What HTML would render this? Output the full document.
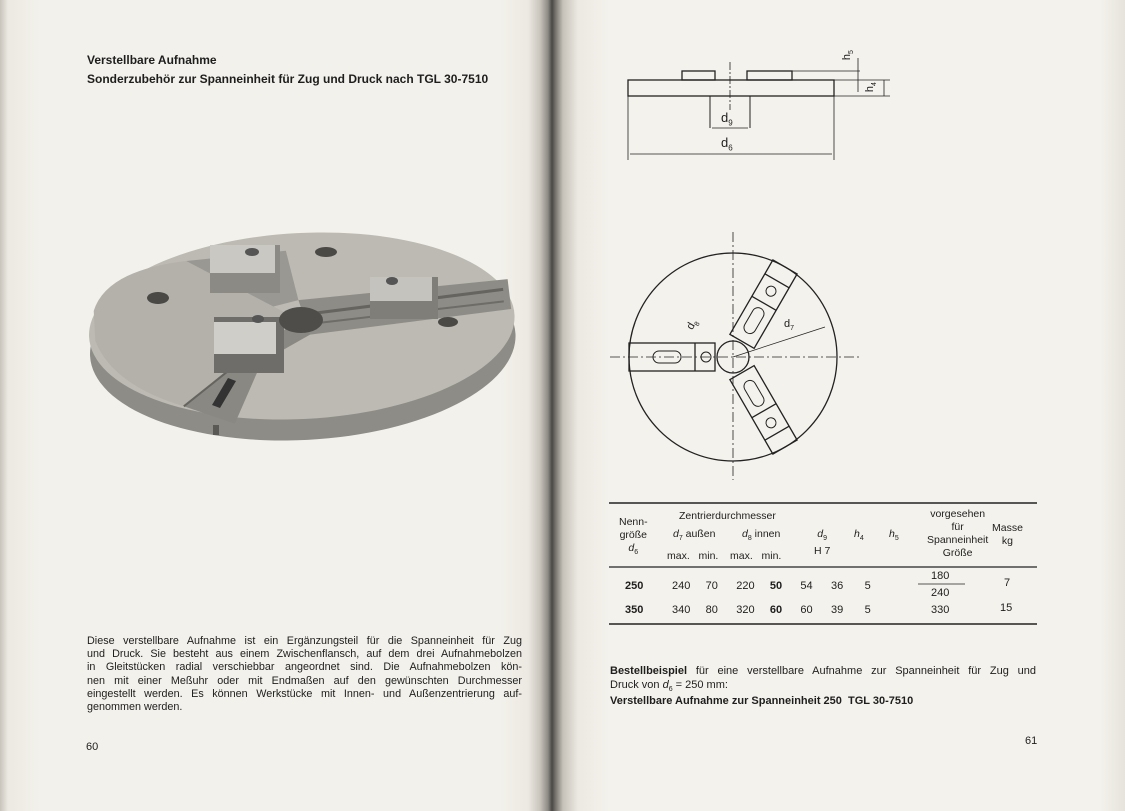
<!DOCTYPE html>
<html><head><meta charset="utf-8"><style>
html,body{margin:0;padding:0}
body{width:1125px;height:811px;position:relative;overflow:hidden;background:#f2f0ea;font-family:"Liberation Sans",sans-serif;color:#1e1e1e}
.t{position:absolute;white-space:nowrap}
.b{font-weight:bold}
.gut{position:absolute;top:0;height:811px}
.j{display:block;text-align:justify;text-align-last:justify}
</style></head><body>
<div class="gut" style="left:0;width:1125px;background:linear-gradient(90deg,#c8c4bc 0,#ece9e2 8px,#f3f1eb 40px,#f3f1eb 500px,#ece9e2 528px,#c9c5bd 540px,#8d8a84 548px,#4a4844 552px,#7b7872 556px,#c6c2ba 563px,#ece9e2 578px,#f4f2ec 610px,#f4f2ec 1100px,#e6e3dc 1125px)"></div>

<div class="t b" style="left:87px;top:53px;font-size:12px">Verstellbare Aufnahme</div>
<div class="t b" style="left:87px;top:72px;font-size:12px">Sonderzubehör zur Spanneinheit für Zug und Druck nach TGL 30-7510</div>

<svg style="position:absolute;left:0;top:0" width="560" height="811">
  <g transform="rotate(-3 302 330)">
  <ellipse cx="302" cy="345" rx="213" ry="95" fill="#8e8c86"/>
  <ellipse cx="302" cy="326" rx="213" ry="93" fill="#bcbab3"/>
  <path d="M180 400 L245 345 L300 318 L320 330 L260 360 L230 420 Z" fill="#8a8882"/>
  <path d="M190 255 L290 250 L300 300 L250 310 Z" fill="#9a9892"/>
  <path d="M300 300 L510 290 L512 320 L310 335 Z" fill="#8e8c86"/>
  <path d="M95 300 Q110 260 190 255 L300 320 L240 355 L180 400 Q110 375 95 330 Z" fill="#b3b1aa"/>
  <line x1="300" y1="315" x2="505" y2="300" stroke="#66645f" stroke-width="3"/>
  <line x1="300" y1="325" x2="505" y2="312" stroke="#6e6c67" stroke-width="2"/>
  <line x1="180" y1="400" x2="250" y2="350" stroke="#66645f" stroke-width="2"/>
  </g>
  <rect x="210" y="245" width="70" height="48" fill="#8b8a85"/>
  <rect x="210" y="245" width="65" height="28" fill="#c9c8c2"/>
  <ellipse cx="252" cy="252" rx="7" ry="4" fill="#555"/>
  <rect x="370" y="277" width="68" height="42" fill="#7f7e79"/>
  <rect x="370" y="277" width="62" height="24" fill="#c4c3bd"/>
  <ellipse cx="392" cy="281" rx="6" ry="4" fill="#555"/>
  <rect x="214" y="317" width="70" height="56" fill="#6e6d69"/>
  <rect x="214" y="322" width="62" height="32" fill="#cfcec8"/>
  <ellipse cx="258" cy="319" rx="6" ry="4" fill="#555"/>
  <ellipse cx="301" cy="320" rx="22" ry="13" fill="#4e4d49"/>
  <ellipse cx="158" cy="298" rx="11" ry="6" fill="#4a4946"/>
  <ellipse cx="326" cy="252" rx="11" ry="5" fill="#4a4946"/>
  <ellipse cx="448" cy="322" rx="10" ry="5" fill="#4a4946"/>
  <path d="M212 405 L228 378 L236 381 L220 408 Z" fill="#333"/>
  <rect x="213" y="425" width="6" height="10" fill="#5a5955"/>
</svg>

<div class="t" style="left:87px;top:635px;width:435px;font-size:10.8px;line-height:13.2px;white-space:nowrap">
<span class="j">Diese verstellbare Aufnahme ist ein Ergänzungsteil für die Spanneinheit für Zug</span>
<span class="j">und Druck. Sie besteht aus einem Zwischenflansch, auf dem drei Aufnahmebolzen</span>
<span class="j">in Gleitstücken radial verschiebbar angeordnet sind. Die Aufnahmebolzen kön-</span>
<span class="j">nen mit einer Meßuhr oder mit Endmaßen auf den gewünschten Durchmesser</span>
<span class="j">eingestellt werden. Es können Werkstücke mit Innen- und Außenzentrierung auf-</span>
<span style="display:block">genommen werden.</span>
</div>
<div class="t" style="left:86px;top:741px;font-size:11px">60</div>
<div class="t" style="left:1025px;top:735px;font-size:11px">61</div>

<svg style="position:absolute;left:0;top:0" width="1125" height="811" fill="none" stroke="#222" stroke-width="1.3">
  <rect x="628" y="80" width="206" height="16"/>
  <rect x="682" y="71" width="33" height="9"/>
  <rect x="747" y="71" width="45" height="9"/>
  <path d="M710 96 V128 M750 96 V128" stroke-width="1"/>
  <line x1="730" y1="62" x2="730" y2="110" stroke-width="0.8" stroke-dasharray="8 2 2 2"/>
  <line x1="712" y1="128" x2="748" y2="128" stroke-width="0.8"/>
  <line x1="628" y1="96" x2="628" y2="160" stroke-width="0.8"/>
  <line x1="834" y1="96" x2="834" y2="160" stroke-width="0.8"/>
  <line x1="630" y1="154" x2="832" y2="154" stroke-width="0.8"/>
  <path d="M792 71 H860 M834 80 H890 M834 96 H890" stroke-width="0.7"/>
  <path d="M858 58 V92 M884 80 V96" stroke-width="0.8"/>
  <circle cx="733" cy="357" r="104"/>
  <line x1="733" y1="232" x2="733" y2="480" stroke-width="0.8" stroke-dasharray="10 3 2 3"/>
  <line x1="610" y1="357" x2="860" y2="357" stroke-width="0.8" stroke-dasharray="10 3 2 3"/>
  <circle cx="733" cy="357" r="16"/>
  <g transform="translate(733 357)">
    <g transform="rotate(180)"><rect x="18" y="-14" width="86" height="28"/><line x1="38" y1="-14" x2="38" y2="14"/><rect x="52" y="-6" width="28" height="12" rx="6" stroke-width="1"/><circle cx="27" cy="0" r="5" stroke-width="1"/></g>
    <g transform="rotate(-60)"><rect x="18" y="-14" width="86" height="28"/><line x1="62" y1="-14" x2="62" y2="14"/><line x1="88" y1="-14" x2="88" y2="14"/><rect x="28" y="-6" width="28" height="12" rx="6" stroke-width="1"/><circle cx="76" cy="0" r="5" stroke-width="1"/></g>
    <g transform="rotate(60)"><rect x="18" y="-14" width="86" height="28"/><line x1="62" y1="-14" x2="62" y2="14"/><line x1="88" y1="-14" x2="88" y2="14"/><rect x="28" y="-6" width="28" height="12" rx="6" stroke-width="1"/><circle cx="76" cy="0" r="5" stroke-width="1"/></g>
    <line x1="0" y1="0" x2="92" y2="-30" stroke-width="0.7"/>
  </g>
  <line x1="609" y1="503" x2="1037" y2="503" stroke-width="1.6"/>
  <line x1="609" y1="567" x2="1037" y2="567" stroke-width="1.2"/>
  <line x1="609" y1="624" x2="1037" y2="624" stroke-width="1.6"/>
  <line x1="918" y1="584" x2="965" y2="584" stroke-width="0.8"/>
</svg>
<div class="t" style="left:721px;top:110px;font-size:13px">d<sub style="font-size:8px">9</sub></div>
<div class="t" style="left:721px;top:135px;font-size:13px">d<sub style="font-size:8px">6</sub></div>
<div class="t" style="left:843px;top:48px;font-size:11px;transform:rotate(-90deg)">h<sub style="font-size:7px">5</sub></div>
<div class="t" style="left:866px;top:80px;font-size:11px;transform:rotate(-90deg)">h<sub style="font-size:7px">4</sub></div>
<div class="t" style="left:688px;top:318px;font-size:11px;transform:rotate(-60deg)">d<sub style="font-size:7px">8</sub></div>
<div class="t" style="left:784px;top:318px;font-size:11px">d<sub style="font-size:7px">7</sub></div>

<div style="position:absolute;left:609px;top:508px;font-size:10.5px;line-height:13px">
  <div class="t" style="left:10px;top:8px;text-align:center">Nenn-<br>größe<br><i>d</i><sub style="font-size:7px">6</sub></div>
  <div class="t" style="left:70px;top:2px">Zentrierdurchmesser</div>
  <div class="t" style="left:64px;top:20px"><i>d</i><sub style="font-size:7px">7</sub> außen</div>
  <div class="t" style="left:133px;top:20px"><i>d</i><sub style="font-size:7px">8</sub> innen</div>
  <div class="t" style="left:58px;top:42px">max.&nbsp;&nbsp; min.&nbsp;&nbsp;&nbsp; max.&nbsp;&nbsp; min.</div>
  <div class="t" style="left:205px;top:20px;text-align:center"><i>d</i><sub style="font-size:7px">9</sub><br>H 7</div>
  <div class="t" style="left:245px;top:20px"><i>h</i><sub style="font-size:7px">4</sub></div>
  <div class="t" style="left:280px;top:20px"><i>h</i><sub style="font-size:7px">5</sub></div>
  <div class="t" style="left:318px;top:0px;text-align:center">vorgesehen<br>für<br>Spanneinheit<br>Größe</div>
  <div class="t" style="left:383px;top:14px;text-align:center">Masse<br>kg</div>
</div>
<div class="t" style="left:625px;top:580px;font-size:11px"><span class="b">250</span></div>
<div class="t" style="left:672px;top:580px;font-size:11px">240&nbsp;&nbsp;&nbsp;&nbsp; 70&nbsp;&nbsp;&nbsp;&nbsp;&nbsp; 220&nbsp;&nbsp;&nbsp;&nbsp; <b>50</b>&nbsp;&nbsp;&nbsp;&nbsp;&nbsp; 54&nbsp;&nbsp;&nbsp;&nbsp;&nbsp; 36&nbsp;&nbsp;&nbsp;&nbsp;&nbsp;&nbsp; 5</div>
<div class="t" style="left:625px;top:604px;font-size:11px"><span class="b">350</span></div>
<div class="t" style="left:672px;top:604px;font-size:11px">340&nbsp;&nbsp;&nbsp;&nbsp; 80&nbsp;&nbsp;&nbsp;&nbsp;&nbsp; 320&nbsp;&nbsp;&nbsp;&nbsp; <b>60</b>&nbsp;&nbsp;&nbsp;&nbsp;&nbsp; 60&nbsp;&nbsp;&nbsp;&nbsp;&nbsp; 39&nbsp;&nbsp;&nbsp;&nbsp;&nbsp;&nbsp; 5</div>
<div class="t" style="left:931px;top:570px;font-size:11px">180</div>
<div class="t" style="left:931px;top:587px;font-size:11px">240</div>
<div class="t" style="left:931px;top:604px;font-size:11px">330</div>
<div class="t" style="left:1004px;top:577px;font-size:11px">7</div>
<div class="t" style="left:1000px;top:602px;font-size:11px">15</div>

<div class="t" style="left:610px;top:664px;width:426px;font-size:11px;line-height:14px">
<span class="j"><b>Bestellbeispiel</b> für eine verstellbare Aufnahme zur Spanneinheit für Zug und</span>
<span style="display:block">Druck von <i>d</i><sub style="font-size:7px">6</sub> = 250 mm:</span></div>
<div class="t b" style="left:610px;top:695px;font-size:11px">Verstellbare Aufnahme zur Spanneinheit 250&nbsp; TGL 30-7510</div>
</body></html>
